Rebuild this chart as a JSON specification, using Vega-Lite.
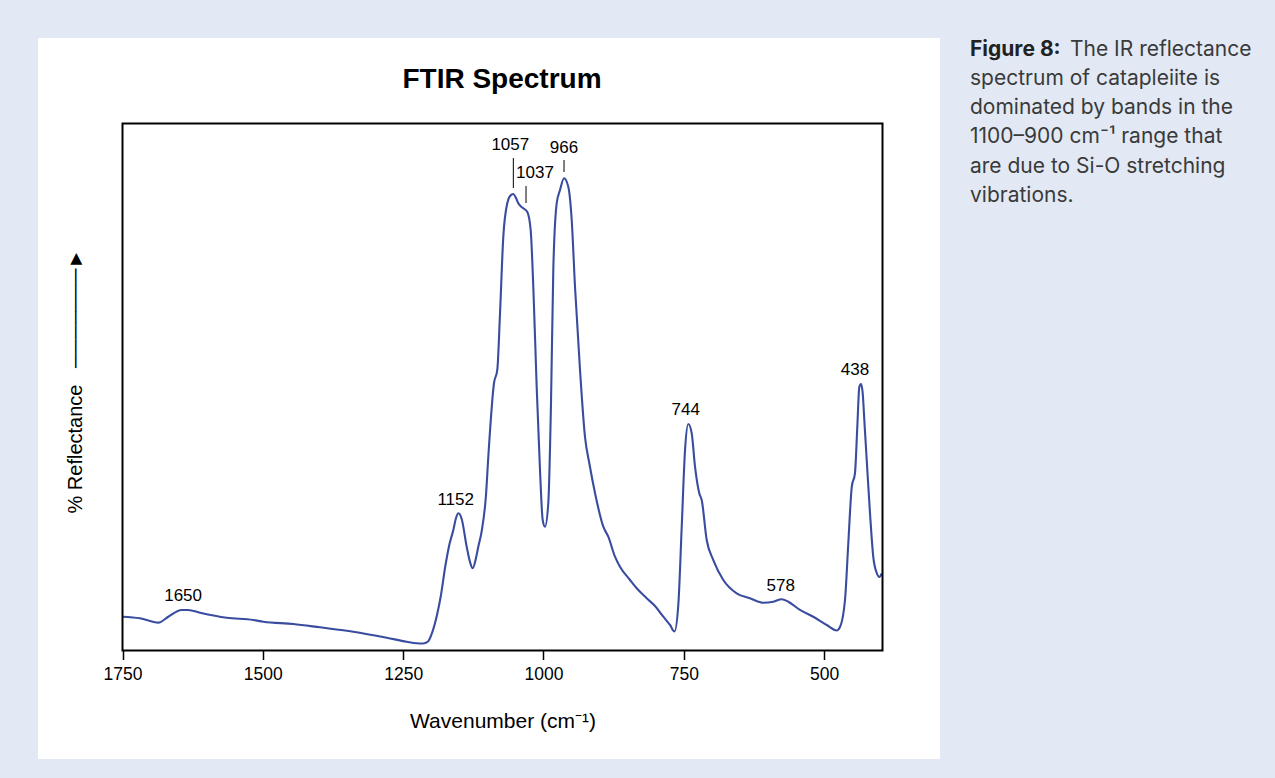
{
  "$schema": "https://vega.github.io/schema/vega-lite/v6.json",
  "background": "#e2e9f5",
  "padding": {"left": 38, "top": 38, "right": 0, "bottom": 19},
  "config": {"view": {"stroke": null}, "font": "Liberation Sans"},
  "spacing": 30,
  "datasets": {
    "spectrum": [
      {"wn":1750,"v":6.41},{"wn":1718.8,"v":6.11},{"wn":1686.2,"v":5.28},{"wn":1668.4,"v":6.41},{"wn":1644.5,"v":7.69},{"wn":1632.8,"v":7.69},{"wn":1611.9,"v":7.17},{"wn":1564.4,"v":6.22},{"wn":1517.0,"v":5.79},{"wn":1499.1,"v":5.46},{"wn":1445.7,"v":5.03},{"wn":1398.1,"v":4.40},{"wn":1338.8,"v":3.57},{"wn":1279.3,"v":2.43},{"wn":1243.7,"v":1.67},{"wn":1225.9,"v":1.37},{"wn":1214.6,"v":1.33},{"wn":1205.7,"v":1.71},{"wn":1198.6,"v":3.32},{"wn":1189.7,"v":6.74},{"wn":1182.6,"v":10.53},{"wn":1175.4,"v":15.65},{"wn":1167.8,"v":20.02},{"wn":1160.6,"v":22.86},{"wn":1155.8,"v":25.14},{"wn":1151.4,"v":26.03},{"wn":1145.7,"v":24.95},{"wn":1136.8,"v":19.70},{"wn":1130.9,"v":16.79},{"wn":1126.1,"v":15.60},{"wn":1120.2,"v":17.55},{"wn":1116.1,"v":19.70},{"wn":1110.0,"v":22.68},{"wn":1102.4,"v":29.51},{"wn":1098.3,"v":36.72},{"wn":1088.1,"v":50.76},{"wn":1082.3,"v":53.23},{"wn":1077.4,"v":64.04},{"wn":1071.6,"v":78.46},{"wn":1064.4,"v":84.91},{"wn":1059.6,"v":86.24},{"wn":1053.7,"v":86.62},{"wn":1048.9,"v":85.86},{"wn":1044.8,"v":84.86},{"wn":1040.0,"v":84.25},{"wn":1035.9,"v":83.91},{"wn":1028.8,"v":83.21},{"wn":1022.8,"v":79.79},{"wn":1018.1,"v":68.97},{"wn":1012.1,"v":50.00},{"wn":1006.2,"v":34.25},{"wn":1001.4,"v":24.76},{"wn":997.3,"v":23.49},{"wn":991.4,"v":27.99},{"wn":986.6,"v":46.96},{"wn":982.5,"v":72.20},{"wn":976.4,"v":84.91},{"wn":970.5,"v":87.38},{"wn":963.4,"v":89.60},{"wn":955.8,"v":88.01},{"wn":949.7,"v":81.69},{"wn":943.8,"v":68.97},{"wn":934.9,"v":53.23},{"wn":926.0,"v":40.51},{"wn":918.4,"v":35.58},{"wn":908.2,"v":29.89},{"wn":893.4,"v":23.49},{"wn":884.5,"v":21.59},{"wn":872.6,"v":17.80},{"wn":863.7,"v":15.90},{"wn":845.8,"v":13.38},{"wn":833.9,"v":11.80},{"wn":816.1,"v":9.91},{"wn":801.3,"v":8.44},{"wn":786.5,"v":6.41},{"wn":774.6,"v":4.84},{"wn":766.6,"v":3.61},{"wn":759.8,"v":8.63},{"wn":753.7,"v":23.49},{"wn":747.8,"v":38.04},{"wn":742.0,"v":42.98},{"wn":735.9,"v":41.21},{"wn":730.0,"v":34.88},{"wn":722.4,"v":29.83},{"wn":718.1,"v":28.56},{"wn":709.2,"v":20.97},{"wn":697.4,"v":17.17},{"wn":679.6,"v":13.38},{"wn":655.8,"v":10.85},{"wn":632.1,"v":9.91},{"wn":608.3,"v":9.07},{"wn":590.5,"v":9.26},{"wn":575.6,"v":9.72},{"wn":563.8,"v":9.26},{"wn":543.0,"v":7.69},{"wn":519.3,"v":6.41},{"wn":495.4,"v":4.84},{"wn":477.6,"v":3.80},{"wn":471.7,"v":4.46},{"wn":462.8,"v":9.58},{"wn":456.9,"v":20.40},{"wn":450.8,"v":31.02},{"wn":445.0,"v":33.68},{"wn":440.9,"v":42.41},{"wn":437.3,"v":50.00},{"wn":434.3,"v":50.57},{"wn":431.3,"v":48.86},{"wn":428.4,"v":43.74},{"wn":424.1,"v":36.15},{"wn":418.3,"v":26.09},{"wn":412.4,"v":17.74},{"wn":406.3,"v":14.71},{"wn":401.7,"v":13.95},{"wn":397.4,"v":14.61}
    ],
    "labels": [
      {"label":"1650","wn":1642,"v":10.40},
      {"label":"1152","wn":1156.4,"v":28.56},
      {"label":"1057","wn":1059.1,"v":95.92},
      {"label":"1037","wn":1015.1,"v":90.61},
      {"label":"966","wn":963.4,"v":95.35},
      {"label":"744","wn":746.6,"v":45.63},
      {"label":"578","wn":577.4,"v":12.24},
      {"label":"438","wn":445,"v":53.23}
    ],
    "leaders": [
      {"wn":1053.7,"v":93.45,"v2":87.76},
      {"wn":1031.1,"v":88.14,"v2":84.91},
      {"wn":963.4,"v":93.07,"v2":90.80}
    ],
    "caption": [
      {"line":0,"part":"bold","text":"Figure 8:"},
      {"line":0,"part":"first","text":"The IR reflectance"},
      {"line":1,"part":"body","text":"spectrum of catapleiite is"},
      {"line":2,"part":"body","text":"dominated by bands in the"},
      {"line":3,"part":"body","text":"1100–900 cm⁻¹ range that"},
      {"line":4,"part":"body","text":"are due to Si-O stretching"},
      {"line":5,"part":"body","text":"vibrations."}
    ]
  },
  "hconcat": [
    {
      "width": 902,
      "height": 721,
      "view": {"fill": "white", "stroke": null},
      "title": {"text": "FTIR Spectrum", "font": "Liberation Sans", "fontSize": 28, "fontWeight": "bold", "color": "black", "anchor": "middle", "frame": "group", "offset": -78, "baseline": "alphabetic", "dx": 13},
      "layer": [
        {
          "data": {"name": "spectrum"},
          "mark": {"type": "line", "color": "#3a4c9f", "strokeWidth": 2.1, "interpolate": "monotone"},
          "encoding": {
            "x": {"field": "wn", "type": "quantitative",
              "scale": {"domain": [396, 1750], "range": [844.5, 84.5], "nice": false, "zero": false},
              "axis": {"orient": "bottom", "offset": -108.5, "values": [1750, 1500, 1250, 1000, 750, 500], "format": "d",
                "domain": false, "grid": false, "tickColor": "black", "tickSize": 9, "tickWidth": 1.5,
                "labelFontSize": 17.5, "labelColor": "black", "labelFont": "Liberation Sans", "labelPadding": 6, "labelFlush": false, "labelOverlap": false,
                "title": "Wavenumber (cm⁻¹)", "titleFontSize": 21, "titleFontWeight": "normal", "titleColor": "black", "titleFont": "Liberation Sans", "titleY": 70.5, "titleBaseline": "middle"}},
            "y": {"field": "v", "type": "quantitative",
              "scale": {"domain": [0, 100], "range": [612.5, 85.5], "nice": false, "zero": false},
              "axis": {"orient": "left", "offset": -84.5, "domain": false, "ticks": false, "labels": false, "grid": false,
                "title": "% Reflectance\u00a0\u00a0\u00a0───────►", "titleFont": "Liberation Sans", "titleFontSize": 20, "titleFontWeight": "normal", "titleColor": "black",
                "titleAngle": 270, "titleAlign": "left", "titleBaseline": "middle", "titleX": -47.5, "titleY": 475}}
          }
        },
        {
          "data": {"name": "leaders"},
          "mark": {"type": "rule", "color": "black", "strokeWidth": 1},
          "encoding": {
            "x": {"field": "wn", "type": "quantitative"},
            "y": {"field": "v", "type": "quantitative"},
            "y2": {"field": "v2"}
          }
        },
        {
          "data": {"name": "labels"},
          "mark": {"type": "text", "font": "Liberation Sans", "fontSize": 17, "color": "black", "align": "center", "baseline": "middle"},
          "encoding": {
            "x": {"field": "wn", "type": "quantitative"},
            "y": {"field": "v", "type": "quantitative"},
            "text": {"field": "label"}
          }
        },
        {
          "data": {"values": [{}]},
          "mark": {"type": "rect", "fill": "transparent", "stroke": "black", "strokeWidth": 2},
          "encoding": {
            "x": {"datum": 1750, "type": "quantitative"},
            "x2": {"datum": 396},
            "y": {"datum": 0, "type": "quantitative"},
            "y2": {"datum": 100}
          }
        }
      ]
    },
    {
      "width": 305,
      "height": 721,
      "data": {"name": "caption"},
      "view": {"stroke": null},
      "encoding": {
        "y": {"field": "line", "type": "quantitative", "scale": {"domain": [-0.41, 24.32], "reverse": true, "nice": false, "zero": false}, "axis": null},
        "x": {"datum": 0, "type": "quantitative", "scale": {"domain": [0, 305], "nice": false}, "axis": null},
        "text": {"field": "text"}
      },
      "layer": [
        {"transform": [{"filter": "datum.part == 'bold'"}],
         "mark": {"type": "text", "align": "left", "baseline": "middle", "font": "Inter", "fontSize": 21, "fontWeight": "bold", "color": "#222222"}},
        {"transform": [{"filter": "datum.part == 'first'"}],
         "mark": {"type": "text", "align": "left", "baseline": "middle", "font": "Inter", "fontSize": 21, "fontWeight": 400, "color": "#3a3a3a", "dx": 100}},
        {"transform": [{"filter": "datum.part == 'body'"}],
         "mark": {"type": "text", "align": "left", "baseline": "middle", "font": "Inter", "fontSize": 21, "fontWeight": 400, "color": "#3a3a3a"}}
      ]
    }
  ]
}
